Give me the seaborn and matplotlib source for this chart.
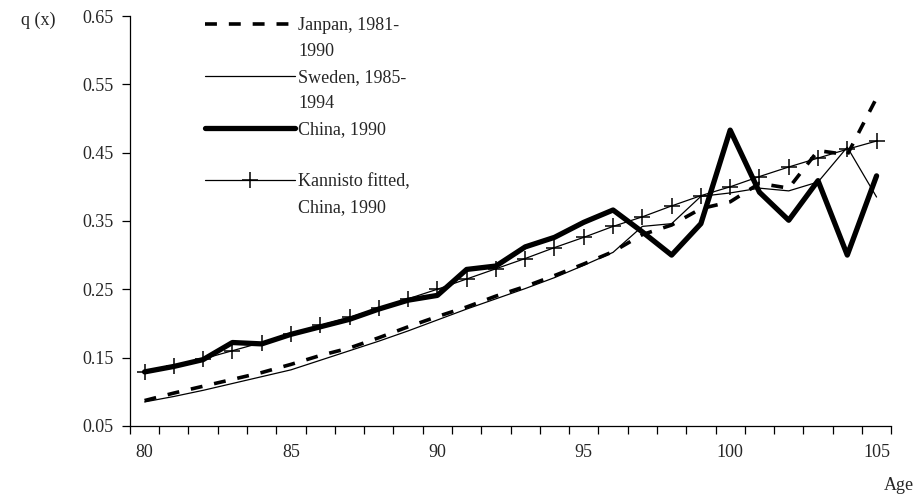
import matplotlib
matplotlib.use('Agg')
import matplotlib.pyplot as plt
import seaborn as sns
import numpy as np
from matplotlib.lines import Line2D

ages = list(range(80, 106))
japan = [0.087, 0.098, 0.108, 0.118, 0.128, 0.140, 0.153, 0.164, 0.179, 0.195,
         0.210, 0.224, 0.240, 0.254, 0.270, 0.287, 0.305, 0.330, 0.344, 0.368,
         0.378, 0.405, 0.398, 0.453, 0.447, 0.530]
sweden = [0.085, 0.093, 0.102, 0.112, 0.122, 0.132, 0.146, 0.160, 0.174, 0.189,
          0.205, 0.221, 0.236, 0.251, 0.267, 0.285, 0.304, 0.342, 0.346, 0.386,
          0.391, 0.398, 0.394, 0.407, 0.458, 0.385]
china = [0.129, 0.137, 0.147, 0.172, 0.170, 0.184, 0.195, 0.206, 0.221, 0.234,
         0.241, 0.279, 0.284, 0.312, 0.326, 0.348, 0.366, 0.334, 0.300, 0.346,
         0.483, 0.392, 0.351, 0.409, 0.300, 0.416]
kannisto = [0.129, 0.138, 0.148, 0.160, 0.172, 0.185, 0.197, 0.209, 0.222, 0.236,
            0.250, 0.265, 0.280, 0.295, 0.311, 0.326, 0.342, 0.356, 0.372, 0.387,
            0.400, 0.415, 0.429, 0.442, 0.455, 0.467]

labels = [("Janpan, 1981-", "1990"), ("Sweden, 1985-", "1994"),
          ("China, 1990", None), ("Kannisto fitted,", "China, 1990")]
yticks = [0.05, 0.15, 0.25, 0.35, 0.45, 0.55, 0.65]
xlabels = [80, 85, 90, 95, 100, 105]

sns.set_style('white')
plt.rcParams['font.family'] = ['Liberation Serif', 'DejaVu Serif']
FS = 13

fig = plt.figure(figsize=(9.15, 5.01), dpi=100)
ax = fig.add_axes([0.142, 0.150, 0.832, 0.818])

sns.lineplot(x=ages, y=japan, ax=ax, color='black', lw=2.6)
ax.lines[-1].set_dashes((3.3, 3.3))
sns.lineplot(x=ages, y=sweden, ax=ax, color='black', lw=0.9)
sns.lineplot(x=ages, y=china, ax=ax, color='black', lw=3.8)
sns.lineplot(x=ages, y=kannisto, ax=ax, color='black', lw=0.9,
             marker='+', markersize=11, markeredgewidth=1.1,
             markeredgecolor='black')

ax.set_xlim(79.5, 105.5)
ax.set_ylim(0.05, 0.65)
ax.set_yticks(yticks)
ax.set_yticklabels([f"{v:.2f}" for v in yticks])
ax.set_xticks(np.arange(79.5, 106, 1))
ax.set_xticklabels([])
ax.set_xticks(xlabels, minor=True)
ax.set_xticklabels([str(v) for v in xlabels], minor=True)
ax.tick_params(axis='x', which='major', direction='out', length=6, width=0.9,
               color='black', bottom=True)
ax.tick_params(axis='x', which='minor', length=0, pad=13, labelsize=FS)
ax.tick_params(axis='y', direction='out', length=6, width=0.9, color='black',
               left=True, labelsize=FS, pad=6)

for side in ['top', 'right']:
    ax.spines[side].set_visible(False)
for side in ['left', 'bottom']:
    ax.spines[side].set_color('black')
    ax.spines[side].set_linewidth(0.9)

ax.set_ylabel('q (x)', rotation=0, fontsize=FS, va='center', ha='center')
ax.yaxis.set_label_coords(-0.12, 0.99)
ax.set_xlabel('Age', fontsize=FS, ha='right', va='center')
ax.xaxis.set_label_coords(1.03, -0.145)

# legend: handle on the first line of each label, continuation lines without a handle
blank = Line2D([], [], color='none')
h_japan = Line2D([], [], color='black', lw=2.6, dashes=(3.3, 3.3))
h_sweden = Line2D([], [], color='black', lw=0.9)
h_china = Line2D([], [], color='black', lw=3.8)
h_kann = Line2D([], [], color='black', lw=0.9, marker='+', markersize=11,
                markeredgewidth=1.1)
handles = [h_japan, blank, h_sweden, blank, h_china, blank, h_kann, blank]
texts = [labels[0][0], labels[0][1], labels[1][0], labels[1][1],
         labels[2][0], " ", labels[3][0], labels[3][1]]
ax.legend(handles, texts, loc='upper left', bbox_to_anchor=(0.098, 0.998),
          frameon=False, fontsize=FS, handlelength=5.0, handletextpad=0.2,
          labelspacing=0.5, borderpad=0, borderaxespad=0)

fig.savefig('out.png', dpi=100)
